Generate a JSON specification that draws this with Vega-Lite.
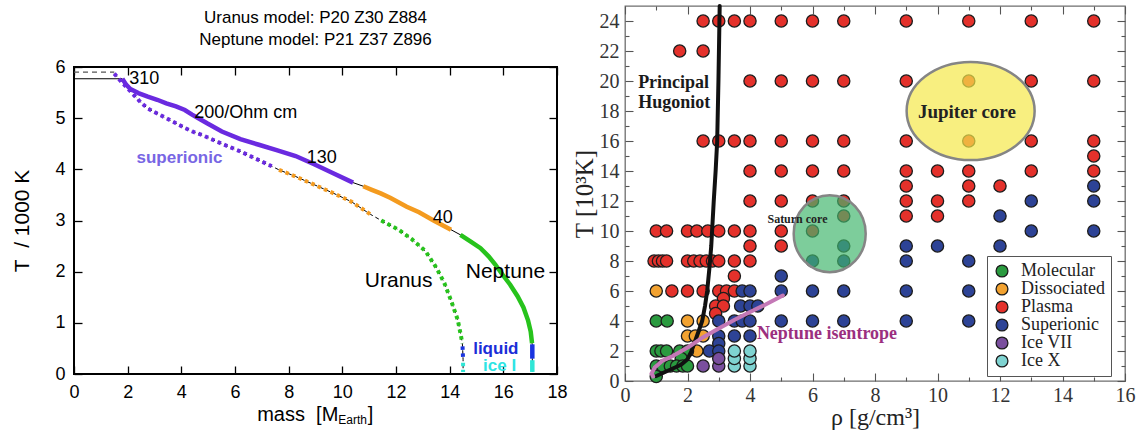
{
"$schema": "https://vega.github.io/schema/vega-lite/v6.json",
"background": "white",
"padding": {"left": 10, "top": -3, "right": 5, "bottom": 5},
"spacing": 2,
"resolve": {"scale": {"color": "independent"}, "legend": {"color": "independent"}},
"datasets": {
  "uranus": [
    {"i":0,"m":1.5,"T":5.87,"ph":"superionic"},{"i":1,"m":1.75,"T":5.72,"ph":"superionic"},{"i":2,"m":1.93,"T":5.62,"ph":"superionic"},
    {"i":3,"m":2.2,"T":5.47,"ph":"superionic"},{"i":4,"m":2.5,"T":5.3,"ph":"superionic"},{"i":5,"m":2.75,"T":5.19,"ph":"superionic"},
    {"i":6,"m":3.1,"T":5.09,"ph":"superionic"},{"i":7,"m":3.44,"T":5.0,"ph":"superionic"},{"i":8,"m":3.8,"T":4.9,"ph":"superionic"},
    {"i":9,"m":4.13,"T":4.81,"ph":"superionic"},{"i":10,"m":4.41,"T":4.74,"ph":"superionic"},{"i":11,"m":4.82,"T":4.66,"ph":"superionic"},
    {"i":12,"m":5.51,"T":4.5,"ph":"superionic"},{"i":13,"m":6.2,"T":4.35,"ph":"superionic"},{"i":14,"m":6.89,"T":4.18,"ph":"superionic"},
    {"i":15,"m":7.37,"T":4.06,"ph":"superionic"},
    {"i":16,"m":7.64,"T":3.99,"ph":"dissociated"},{"i":17,"m":8.26,"T":3.86,"ph":"dissociated"},{"i":18,"m":8.95,"T":3.7,"ph":"dissociated"},
    {"i":19,"m":9.64,"T":3.54,"ph":"dissociated"},{"i":20,"m":10.33,"T":3.37,"ph":"dissociated"},{"i":21,"m":11.05,"T":3.12,"ph":"dissociated"},
    {"i":22,"m":11.45,"T":3.0,"ph":"molecular"},{"i":23,"m":12.1,"T":2.82,"ph":"molecular"},{"i":24,"m":12.6,"T":2.63,"ph":"molecular"},
    {"i":25,"m":13.1,"T":2.4,"ph":"molecular"},{"i":26,"m":13.5,"T":2.08,"ph":"molecular"},{"i":27,"m":13.8,"T":1.78,"ph":"molecular"},
    {"i":28,"m":14.05,"T":1.44,"ph":"molecular"},{"i":29,"m":14.3,"T":1.06,"ph":"molecular"},{"i":30,"m":14.42,"T":0.75,"ph":"molecular"},
    {"i":31,"m":14.47,"T":0.6,"ph":"molecular"},
    {"i":32,"m":14.48,"T":0.54,"ph":"liquid"},{"i":33,"m":14.5,"T":0.28,"ph":"liquid"},
    {"i":34,"m":14.5,"T":0.22,"ph":"ice"},{"i":35,"m":14.5,"T":0.04,"ph":"ice"}
  ],
  "neptune": [
    {"i":0,"m":1.8,"T":5.77,"ph":"superionic"},{"i":1,"m":1.95,"T":5.65,"ph":"superionic"},{"i":2,"m":2.1,"T":5.57,"ph":"superionic"},
    {"i":3,"m":2.4,"T":5.49,"ph":"superionic"},{"i":4,"m":2.75,"T":5.42,"ph":"superionic"},{"i":5,"m":3.1,"T":5.36,"ph":"superionic"},
    {"i":6,"m":3.44,"T":5.29,"ph":"superionic"},{"i":7,"m":3.8,"T":5.23,"ph":"superionic"},{"i":8,"m":4.13,"T":5.16,"ph":"superionic"},
    {"i":9,"m":4.4,"T":5.07,"ph":"superionic"},{"i":10,"m":4.7,"T":4.98,"ph":"superionic"},{"i":11,"m":4.96,"T":4.9,"ph":"superionic"},
    {"i":12,"m":5.51,"T":4.74,"ph":"superionic"},{"i":13,"m":6.2,"T":4.59,"ph":"superionic"},{"i":14,"m":6.89,"T":4.48,"ph":"superionic"},
    {"i":15,"m":7.58,"T":4.37,"ph":"superionic"},{"i":16,"m":8.26,"T":4.26,"ph":"superionic"},{"i":17,"m":8.95,"T":4.1,"ph":"superionic"},
    {"i":18,"m":9.64,"T":3.93,"ph":"superionic"},{"i":19,"m":10.4,"T":3.74,"ph":"superionic"},
    {"i":20,"m":10.78,"T":3.67,"ph":"dissociated"},{"i":21,"m":11.1,"T":3.6,"ph":"dissociated"},{"i":22,"m":11.43,"T":3.53,"ph":"dissociated"},
    {"i":23,"m":11.8,"T":3.44,"ph":"dissociated"},{"i":24,"m":12.4,"T":3.27,"ph":"dissociated"},{"i":25,"m":12.86,"T":3.16,"ph":"dissociated"},
    {"i":26,"m":13.4,"T":3.0,"ph":"dissociated"},{"i":27,"m":14.05,"T":2.82,"ph":"dissociated"},
    {"i":28,"m":14.4,"T":2.72,"ph":"molecular"},{"i":29,"m":14.8,"T":2.58,"ph":"molecular"},{"i":30,"m":15.15,"T":2.46,"ph":"molecular"},
    {"i":31,"m":15.45,"T":2.3,"ph":"molecular"},{"i":32,"m":15.7,"T":2.14,"ph":"molecular"},{"i":33,"m":16.0,"T":1.92,"ph":"molecular"},
    {"i":34,"m":16.25,"T":1.75,"ph":"molecular"},{"i":35,"m":16.53,"T":1.52,"ph":"molecular"},{"i":36,"m":16.75,"T":1.3,"ph":"molecular"},
    {"i":37,"m":16.92,"T":1.05,"ph":"molecular"},{"i":38,"m":17.02,"T":0.83,"ph":"molecular"},{"i":39,"m":17.07,"T":0.6,"ph":"molecular"},
    {"i":40,"m":17.08,"T":0.58,"ph":"liquid"},{"i":41,"m":17.08,"T":0.3,"ph":"liquid"},
    {"i":42,"m":17.08,"T":0.27,"ph":"ice"},{"i":43,"m":17.08,"T":0.04,"ph":"ice"}
  ],
  "surface": [
    {"planet":"Uranus","m":0,"T":5.9},{"planet":"Uranus","m":1.5,"T":5.9},
    {"planet":"Neptune","m":0,"T":5.77},{"planet":"Neptune","m":1.8,"T":5.77}
  ],
  "heading": [
    {"line":1,"t":"Uranus model: P20 Z30 Z884"},
    {"line":2,"t":"Neptune model: P21 Z37 Z896"}
  ],
  "ltext": [
    {"txt":"310","m":2.62,"T":5.77,"k":"num"},
    {"txt":"200/Ohm cm","m":6.4,"T":5.11,"k":"num"},
    {"txt":"130","m":9.23,"T":4.22,"k":"num"},
    {"txt":"40","m":13.74,"T":3.05,"k":"num"},
    {"txt":"Uranus","m":12.1,"T":1.82,"k":"planet"},
    {"txt":"Neptune","m":16.08,"T":1.99,"k":"planet"},
    {"txt":"superionic","m":3.93,"T":4.22,"k":"sup"},
    {"txt":"liquid","m":15.72,"T":0.48,"k":"liq"},
    {"txt":"ice I","m":15.86,"T":0.15,"k":"ice"},
    {"txt":"mass\u00a0\u00a0[M","m":9.85,"T":-0.8,"k":"xt"},
    {"txt":"Earth","m":9.85,"T":-0.9,"k":"xsub"},
    {"txt":"]","m":10.95,"T":-0.8,"k":"xbr"}
  ],
  "hugoniot": [
    {"rho":1.0,"T":0.33},{"rho":1.3,"T":0.62},{"rho":1.6,"T":0.9},{"rho":1.8,"T":1.1},{"rho":2.0,"T":1.45},
    {"rho":2.12,"T":1.95},{"rho":2.25,"T":2.7},{"rho":2.37,"T":3.4},{"rho":2.47,"T":4.0},{"rho":2.56,"T":5.0},
    {"rho":2.63,"T":6.0},{"rho":2.7,"T":7.5},{"rho":2.76,"T":9.0},{"rho":2.8,"T":10.5},{"rho":2.84,"T":12.0},
    {"rho":2.9,"T":14.0},{"rho":2.95,"T":16.0},{"rho":2.99,"T":20.0},{"rho":3.03,"T":25.0}
  ],
  "isentrope": [
    {"rho":0.9,"T":0.3},{"rho":0.85,"T":0.5},{"rho":0.95,"T":0.9},{"rho":1.2,"T":1.35},{"rho":1.53,"T":1.67},
    {"rho":2.06,"T":2.3},{"rho":2.5,"T":2.92},{"rho":3.0,"T":3.5},{"rho":3.48,"T":4.05},{"rho":4.0,"T":4.6},
    {"rho":4.5,"T":5.1},{"rho":5.05,"T":5.7}
  ],
  "phases": [
    {"rho":2.5,"T":24,"state":"Plasma"},{"rho":3,"T":24,"state":"Plasma"},{"rho":3.5,"T":24,"state":"Plasma"},{"rho":4,"T":24,"state":"Plasma"},
    {"rho":5,"T":24,"state":"Plasma"},{"rho":6,"T":24,"state":"Plasma"},{"rho":7,"T":24,"state":"Plasma"},{"rho":9,"T":24,"state":"Plasma"},
    {"rho":11,"T":24,"state":"Plasma"},{"rho":13,"T":24,"state":"Plasma"},{"rho":15,"T":24,"state":"Plasma"},
    {"rho":1.75,"T":22,"state":"Plasma"},{"rho":2.5,"T":22,"state":"Plasma"},
    {"rho":4,"T":20,"state":"Plasma"},{"rho":5,"T":20,"state":"Plasma"},{"rho":6,"T":20,"state":"Plasma"},{"rho":7,"T":20,"state":"Plasma"},
    {"rho":9,"T":20,"state":"Plasma"},{"rho":11,"T":20,"state":"Plasma"},{"rho":13,"T":20,"state":"Plasma"},{"rho":15,"T":20,"state":"Plasma"},
    {"rho":2.5,"T":16,"state":"Plasma"},{"rho":3,"T":16,"state":"Plasma"},{"rho":3.5,"T":16,"state":"Plasma"},{"rho":4,"T":16,"state":"Plasma"},
    {"rho":5,"T":16,"state":"Plasma"},{"rho":6,"T":16,"state":"Plasma"},{"rho":7,"T":16,"state":"Plasma"},{"rho":9,"T":16,"state":"Plasma"},
    {"rho":11,"T":16,"state":"Plasma"},{"rho":13,"T":16,"state":"Plasma"},{"rho":15,"T":16,"state":"Plasma"},
    {"rho":15,"T":15,"state":"Plasma"},
    {"rho":4,"T":14,"state":"Plasma"},{"rho":5,"T":14,"state":"Plasma"},{"rho":6,"T":14,"state":"Plasma"},{"rho":7,"T":14,"state":"Plasma"},
    {"rho":9,"T":14,"state":"Plasma"},{"rho":10,"T":14,"state":"Plasma"},{"rho":11,"T":14,"state":"Plasma"},{"rho":13,"T":14,"state":"Plasma"},
    {"rho":15,"T":14,"state":"Plasma"},
    {"rho":9,"T":13,"state":"Plasma"},{"rho":11,"T":13,"state":"Plasma"},{"rho":12,"T":13,"state":"Plasma"},
    {"rho":4,"T":12,"state":"Plasma"},{"rho":5,"T":12,"state":"Plasma"},{"rho":6,"T":12,"state":"Plasma"},{"rho":7,"T":12,"state":"Plasma"},
    {"rho":9,"T":12,"state":"Plasma"},{"rho":10,"T":12,"state":"Plasma"},{"rho":11,"T":12,"state":"Plasma"},
    {"rho":7,"T":11,"state":"Plasma"},{"rho":9,"T":11,"state":"Plasma"},{"rho":10,"T":11,"state":"Plasma"},
    {"rho":1.0,"T":10,"state":"Plasma"},{"rho":1.33,"T":10,"state":"Plasma"},{"rho":2.0,"T":10,"state":"Plasma"},{"rho":2.3,"T":10,"state":"Plasma"},
    {"rho":2.65,"T":10,"state":"Plasma"},{"rho":3.0,"T":10,"state":"Plasma"},{"rho":3.5,"T":10,"state":"Plasma"},{"rho":4.0,"T":10,"state":"Plasma"},
    {"rho":5.0,"T":10,"state":"Plasma"},{"rho":6.0,"T":10,"state":"Plasma"},
    {"rho":4,"T":9,"state":"Plasma"},{"rho":5,"T":9,"state":"Plasma"},
    {"rho":0.93,"T":8,"state":"Plasma"},{"rho":1.07,"T":8,"state":"Plasma"},{"rho":1.2,"T":8,"state":"Plasma"},{"rho":1.33,"T":8,"state":"Plasma"},
    {"rho":2.0,"T":8,"state":"Plasma"},{"rho":2.2,"T":8,"state":"Plasma"},{"rho":2.4,"T":8,"state":"Plasma"},{"rho":2.6,"T":8,"state":"Plasma"},
    {"rho":2.8,"T":8,"state":"Plasma"},{"rho":3.0,"T":8,"state":"Plasma"},{"rho":3.5,"T":8,"state":"Plasma"},{"rho":4.0,"T":8,"state":"Plasma"},
    {"rho":3.5,"T":7,"state":"Plasma"},
    {"rho":1.5,"T":6,"state":"Plasma"},{"rho":2.0,"T":6,"state":"Plasma"},{"rho":2.5,"T":6,"state":"Plasma"},{"rho":3.0,"T":6,"state":"Plasma"},
    {"rho":3.25,"T":6,"state":"Plasma"},{"rho":3.5,"T":6,"state":"Plasma"},
    {"rho":3.15,"T":5.5,"state":"Plasma"},{"rho":2.9,"T":5,"state":"Plasma"},{"rho":3.15,"T":5,"state":"Plasma"},{"rho":2.9,"T":4.5,"state":"Plasma"},
    {"rho":15,"T":13,"state":"Superionic"},{"rho":13,"T":12,"state":"Superionic"},{"rho":15,"T":12,"state":"Superionic"},
    {"rho":12,"T":11,"state":"Superionic"},{"rho":13,"T":10,"state":"Superionic"},{"rho":15,"T":10,"state":"Superionic"},
    {"rho":7,"T":9,"state":"Superionic"},{"rho":9,"T":9,"state":"Superionic"},{"rho":10,"T":9,"state":"Superionic"},{"rho":12,"T":9,"state":"Superionic"},
    {"rho":6,"T":8,"state":"Superionic"},{"rho":7,"T":8,"state":"Superionic"},{"rho":9,"T":8,"state":"Superionic"},{"rho":11,"T":8,"state":"Superionic"},
    {"rho":5,"T":7,"state":"Superionic"},
    {"rho":3.75,"T":6,"state":"Superionic"},{"rho":4,"T":6,"state":"Superionic"},{"rho":5,"T":6,"state":"Superionic"},{"rho":6,"T":6,"state":"Superionic"},
    {"rho":7,"T":6,"state":"Superionic"},{"rho":9,"T":6,"state":"Superionic"},{"rho":11,"T":6,"state":"Superionic"},
    {"rho":3.7,"T":5,"state":"Superionic"},{"rho":4.0,"T":5,"state":"Superionic"},{"rho":4.25,"T":5,"state":"Superionic"},
    {"rho":3.0,"T":4,"state":"Superionic"},{"rho":3.5,"T":4,"state":"Superionic"},{"rho":3.75,"T":4,"state":"Superionic"},{"rho":4.0,"T":4,"state":"Superionic"},
    {"rho":5,"T":4,"state":"Superionic"},{"rho":6,"T":4,"state":"Superionic"},{"rho":7,"T":4,"state":"Superionic"},{"rho":9,"T":4,"state":"Superionic"},
    {"rho":11,"T":4,"state":"Superionic"},
    {"rho":3.0,"T":3,"state":"Superionic"},{"rho":3.5,"T":3,"state":"Superionic"},{"rho":4.0,"T":3,"state":"Superionic"},
    {"rho":3.0,"T":2.5,"state":"Superionic"},{"rho":2.7,"T":2,"state":"Superionic"},{"rho":3.0,"T":2,"state":"Superionic"},
    {"rho":1.0,"T":6,"state":"Dissociated"},{"rho":2.0,"T":4,"state":"Dissociated"},{"rho":2.5,"T":4,"state":"Dissociated"},
    {"rho":2.0,"T":3,"state":"Dissociated"},{"rho":2.25,"T":3,"state":"Dissociated"},{"rho":2.5,"T":3,"state":"Dissociated"},
    {"rho":2.3,"T":2,"state":"Dissociated"},
    {"rho":1.0,"T":4,"state":"Molecular"},{"rho":1.35,"T":4,"state":"Molecular"},
    {"rho":1.0,"T":2,"state":"Molecular"},{"rho":1.15,"T":2,"state":"Molecular"},{"rho":1.33,"T":2,"state":"Molecular"},
    {"rho":1.75,"T":2,"state":"Molecular"},{"rho":2.0,"T":2,"state":"Molecular"},{"rho":1.8,"T":1.5,"state":"Molecular"},
    {"rho":1.0,"T":1,"state":"Molecular"},{"rho":1.2,"T":1,"state":"Molecular"},{"rho":1.45,"T":1,"state":"Molecular"},
    {"rho":1.65,"T":1,"state":"Molecular"},{"rho":1.85,"T":1,"state":"Molecular"},{"rho":2.0,"T":1,"state":"Molecular"},
    {"rho":1.0,"T":0.3,"state":"Molecular"},
    {"rho":2.5,"T":1,"state":"Ice VII"},{"rho":3.0,"T":1,"state":"Ice VII"},{"rho":3.0,"T":1.5,"state":"Ice VII"},
    {"rho":3.5,"T":1,"state":"Ice X"},{"rho":3.5,"T":1.5,"state":"Ice X"},{"rho":3.5,"T":2,"state":"Ice X"},
    {"rho":4.0,"T":1,"state":"Ice X"},{"rho":4.0,"T":1.5,"state":"Ice X"},{"rho":4.0,"T":2,"state":"Ice X"}
  ],
  "cores": [
    {"name":"Saturn core","rho":6.55,"T":9.82},
    {"name":"Jupiter core","rho":11.06,"T":18.0}
  ],
  "rtext": [
    {"txt":"Principal","rho":0.42,"T":19.9,"k":"hug"},
    {"txt":"Hugoniot","rho":0.42,"T":18.55,"k":"hug"},
    {"txt":"Neptune isentrope","rho":4.22,"T":3.15,"k":"isen"},
    {"txt":"Jupiter core","rho":10.94,"T":17.95,"k":"jup"},
    {"txt":"Saturn core","rho":5.52,"T":10.8,"k":"sat"}
  ]
},
"hconcat": [
  {"vconcat": [
    {
      "width": 483,
      "height": 46,
      "view": {"stroke": null},
      "data": {"name": "heading"},
      "mark": {"type": "text", "font": "Liberation Sans", "fontSize": 17, "color": "black", "align": "center", "baseline": "middle"},
      "encoding": {
        "y": {"field": "line", "type": "ordinal", "axis": null, "scale": {"type": "point", "padding": 0.55}},
        "text": {"field": "t"}
      }
    },
    {
    "width": 483,
    "height": 307,
    "view": {"stroke": "black", "strokeWidth": 2},
    "resolve": {"axis": {"x": "independent", "y": "independent"}},
    "layer": [
      {"data": {"name": "uranus"},
       "mark": {"type": "line", "color": "black", "strokeWidth": 1, "strokeDash": [4, 3]},
       "encoding": {
         "x": {"field": "m", "type": "quantitative", "scale": {"domain": [0, 18], "nice": false, "zero": false},
               "axis": {"orient": "bottom", "values": [0,2,4,6,8,10,12,14,16,18], "tickSize": -8, "tickColor": "black", "tickWidth": 1.3, "domain": false, "grid": false, "labelFont": "Liberation Sans", "labelFontSize": 18, "labelColor": "black", "labelPadding": 17, "labelFlush": false, "labelOverlap": false, "title": null}},
         "y": {"field": "T", "type": "quantitative", "scale": {"domain": [0, 6], "nice": false, "zero": false},
               "axis": {"orient": "left", "values": [0,1,2,3,4,5,6], "tickSize": -8, "tickColor": "black", "tickWidth": 1.3, "domain": false, "grid": false, "labelFont": "Liberation Sans", "labelFontSize": 18, "labelColor": "black", "labelPadding": 17, "labelFlush": false, "labelOverlap": false, "title": "T\u00a0\u00a0/ 1000 K", "titleFont": "Liberation Sans", "titleFontSize": 21, "titleFontWeight": "normal", "titleColor": "black", "titlePadding": 22}},
         "order": {"field": "i"}
       }},
      {"data": {"name": "neptune"},
       "mark": {"type": "line", "color": "black", "strokeWidth": 1},
       "encoding": {
         "x": {"field": "m", "type": "quantitative", "scale": {"domain": [0, 18], "nice": false, "zero": false},
               "axis": {"orient": "top", "values": [0,2,4,6,8,10,12,14,16,18], "tickSize": -8, "tickColor": "black", "tickWidth": 1.3, "domain": false, "grid": false, "labels": false, "title": null}},
         "y": {"field": "T", "type": "quantitative", "scale": {"domain": [0, 6], "nice": false, "zero": false},
               "axis": {"orient": "right", "values": [0,1,2,3,4,5,6], "tickSize": -8, "tickColor": "black", "tickWidth": 1.3, "domain": false, "grid": false, "labels": false, "title": null}},
         "order": {"field": "i"}
       }},
      {"data": {"name": "surface"},
       "transform": [{"filter": "datum.planet === 'Uranus'"}],
       "mark": {"type": "line", "color": "#555555", "strokeWidth": 1.2, "strokeDash": [5, 4]},
       "encoding": {
         "x": {"field": "m", "type": "quantitative", "scale": {"domain": [0, 18], "nice": false, "zero": false}, "axis": null},
         "y": {"field": "T", "type": "quantitative", "scale": {"domain": [0, 6], "nice": false, "zero": false}, "axis": null}
       }},
      {"data": {"name": "surface"},
       "transform": [{"filter": "datum.planet === 'Neptune'"}],
       "mark": {"type": "line", "color": "black", "strokeWidth": 1.2},
       "encoding": {
         "x": {"field": "m", "type": "quantitative", "scale": {"domain": [0, 18], "nice": false, "zero": false}, "axis": null},
         "y": {"field": "T", "type": "quantitative", "scale": {"domain": [0, 6], "nice": false, "zero": false}, "axis": null}
       }},
      {"data": {"name": "uranus"},
       "mark": {"type": "line", "strokeWidth": 4, "strokeDash": [3.5, 3.5]},
       "encoding": {
         "x": {"field": "m", "type": "quantitative", "scale": {"domain": [0, 18], "nice": false, "zero": false}, "axis": null},
         "y": {"field": "T", "type": "quantitative", "scale": {"domain": [0, 6], "nice": false, "zero": false}, "axis": null},
         "color": {"field": "ph", "type": "nominal", "scale": {"domain": ["superionic","dissociated","molecular","liquid","ice"], "range": ["#6a2ae0","#f49b1f","#27c31c","#1a34e0","#2fe6d6"]}, "legend": null},
         "order": {"field": "i"}
       }},
      {"data": {"name": "neptune"},
       "mark": {"type": "line", "strokeWidth": 4.5},
       "encoding": {
         "x": {"field": "m", "type": "quantitative", "scale": {"domain": [0, 18], "nice": false, "zero": false}, "axis": null},
         "y": {"field": "T", "type": "quantitative", "scale": {"domain": [0, 6], "nice": false, "zero": false}, "axis": null},
         "color": {"field": "ph", "type": "nominal", "scale": {"domain": ["superionic","dissociated","molecular","liquid","ice"], "range": ["#6a2ae0","#f49b1f","#27c31c","#1a34e0","#2fe6d6"]}, "legend": null},
         "order": {"field": "i"}
       }},
      {"data": {"name": "ltext"},
       "transform": [{"filter": "datum.k === 'num'"}],
       "mark": {"type": "text", "font": "Liberation Sans", "fontSize": 18, "color": "black", "align": "center", "baseline": "middle"},
       "encoding": {
         "x": {"field": "m", "type": "quantitative", "scale": {"domain": [0, 18], "nice": false, "zero": false}, "axis": null},
         "y": {"field": "T", "type": "quantitative", "scale": {"domain": [0, 6], "nice": false, "zero": false}, "axis": null},
         "text": {"field": "txt"}
       }},
      {"data": {"name": "ltext"},
       "transform": [{"filter": "datum.k === 'planet'"}],
       "mark": {"type": "text", "font": "Liberation Sans", "fontSize": 21, "color": "black", "align": "center", "baseline": "middle"},
       "encoding": {
         "x": {"field": "m", "type": "quantitative", "scale": {"domain": [0, 18], "nice": false, "zero": false}, "axis": null},
         "y": {"field": "T", "type": "quantitative", "scale": {"domain": [0, 6], "nice": false, "zero": false}, "axis": null},
         "text": {"field": "txt"}
       }},
      {"data": {"name": "ltext"},
       "transform": [{"filter": "datum.k === 'sup'"}],
       "mark": {"type": "text", "font": "Liberation Sans", "fontSize": 17, "fontWeight": "bold", "color": "#7866e4", "align": "center", "baseline": "middle"},
       "encoding": {
         "x": {"field": "m", "type": "quantitative", "scale": {"domain": [0, 18], "nice": false, "zero": false}, "axis": null},
         "y": {"field": "T", "type": "quantitative", "scale": {"domain": [0, 6], "nice": false, "zero": false}, "axis": null},
         "text": {"field": "txt"}
       }},
      {"data": {"name": "ltext"},
       "transform": [{"filter": "datum.k === 'liq'"}],
       "mark": {"type": "text", "font": "Liberation Sans", "fontSize": 17, "fontWeight": "bold", "color": "#1a2ed8", "align": "center", "baseline": "middle"},
       "encoding": {
         "x": {"field": "m", "type": "quantitative", "scale": {"domain": [0, 18], "nice": false, "zero": false}, "axis": null},
         "y": {"field": "T", "type": "quantitative", "scale": {"domain": [0, 6], "nice": false, "zero": false}, "axis": null},
         "text": {"field": "txt"}
       }},
      {"data": {"name": "ltext"},
       "transform": [{"filter": "datum.k === 'ice'"}],
       "mark": {"type": "text", "font": "Liberation Sans", "fontSize": 17, "fontWeight": "bold", "color": "#2ee4e4", "align": "center", "baseline": "middle"},
       "encoding": {
         "x": {"field": "m", "type": "quantitative", "scale": {"domain": [0, 18], "nice": false, "zero": false}, "axis": null},
         "y": {"field": "T", "type": "quantitative", "scale": {"domain": [0, 6], "nice": false, "zero": false}, "axis": null},
         "text": {"field": "txt"}
       }},
      {"data": {"name": "ltext"},
       "transform": [{"filter": "datum.k === 'xt'"}],
       "mark": {"type": "text", "font": "Liberation Sans", "fontSize": 20, "color": "black", "align": "right", "baseline": "middle"},
       "encoding": {
         "x": {"field": "m", "type": "quantitative", "scale": {"domain": [0, 18], "nice": false, "zero": false}, "axis": null},
         "y": {"field": "T", "type": "quantitative", "scale": {"domain": [0, 6], "nice": false, "zero": false}, "axis": null},
         "text": {"field": "txt"}
       }},
      {"data": {"name": "ltext"},
       "transform": [{"filter": "datum.k === 'xsub'"}],
       "mark": {"type": "text", "font": "Liberation Sans", "fontSize": 12, "color": "black", "align": "left", "baseline": "middle"},
       "encoding": {
         "x": {"field": "m", "type": "quantitative", "scale": {"domain": [0, 18], "nice": false, "zero": false}, "axis": null},
         "y": {"field": "T", "type": "quantitative", "scale": {"domain": [0, 6], "nice": false, "zero": false}, "axis": null},
         "text": {"field": "txt"}
       }},
      {"data": {"name": "ltext"},
       "transform": [{"filter": "datum.k === 'xbr'"}],
       "mark": {"type": "text", "font": "Liberation Sans", "fontSize": 20, "color": "black", "align": "left", "baseline": "middle"},
       "encoding": {
         "x": {"field": "m", "type": "quantitative", "scale": {"domain": [0, 18], "nice": false, "zero": false}, "axis": null},
         "y": {"field": "T", "type": "quantitative", "scale": {"domain": [0, 6], "nice": false, "zero": false}, "axis": null},
         "text": {"field": "txt"}
       }}
    ]
    }
  ], "spacing": 5},
  {
    "width": 500,
    "height": 375,
    "view": {"stroke": "#6e6e6e", "strokeWidth": 1.3},
    "resolve": {"axis": {"x": "independent", "y": "independent"}},
    "layer": [
      {"data": {"name": "phases"},
       "mark": {"type": "point", "filled": true, "size": 150, "stroke": "#1c1c1c", "strokeWidth": 1.3, "opacity": 1},
       "encoding": {
         "x": {"field": "rho", "type": "quantitative", "scale": {"domain": [0, 16], "nice": false, "zero": false},
               "axis": {"orient": "bottom", "values": [0,1,2,3,4,5,6,7,8,9,10,11,12,13,14,15,16], "labelExpr": "datum.value % 2 === 0 ? datum.label : ''",
                        "tickSize": {"condition": {"test": "datum.value % 2 === 0", "value": -8}, "value": -4},
                        "tickColor": "#555555", "tickWidth": 1.1, "domain": false, "grid": false,
                        "labelFont": "Liberation Serif", "labelFontSize": 20, "labelColor": "#333333", "labelPadding": 12, "labelFlush": false, "labelOverlap": false,
                        "title": "ρ [g/cm³]", "titleFont": "Liberation Serif", "titleFontSize": 24, "titleFontWeight": "normal", "titleColor": "#222222", "titlePadding": -4}},
         "y": {"field": "T", "type": "quantitative", "scale": {"domain": [0, 25], "nice": false, "zero": false},
               "axis": {"orient": "left", "values": [0,1,2,3,4,5,6,7,8,9,10,11,12,13,14,15,16,17,18,19,20,21,22,23,24], "labelExpr": "datum.value % 2 === 0 ? datum.label : ''",
                        "tickSize": {"condition": {"test": "datum.value % 2 === 0", "value": -8}, "value": -4},
                        "tickColor": "#555555", "tickWidth": 1.1, "domain": false, "grid": false,
                        "labelFont": "Liberation Serif", "labelFontSize": 20, "labelColor": "#333333", "labelPadding": 14, "labelFlush": false, "labelOverlap": false,
                        "title": "T [10³K]", "titleFont": "Liberation Serif", "titleFontSize": 25, "titleFontWeight": "normal", "titleColor": "#222222", "titlePadding": 2}},
         "color": {"field": "state", "type": "nominal",
                   "scale": {"domain": ["Molecular","Dissociated","Plasma","Superionic","Ice VII","Ice X"], "range": ["#2a9a3f","#f2a230","#e4312b","#2d4396","#7a4f9e","#7fd3d1"]},
                   "legend": {"title": null, "orient": "none", "legendX": 362, "legendY": 250, "direction": "vertical", "fillColor": "white", "strokeColor": "#555555", "padding": 6,
                              "labelFont": "Liberation Serif", "labelFontSize": 18, "labelColor": "#222222", "symbolType": "circle", "symbolSize": 140,
                              "symbolStrokeColor": "#1c1c1c", "symbolStrokeWidth": 1.3, "symbolOpacity": 1, "labelOffset": 10, "rowPadding": 0, "labelLimit": 300}}
       }},
      {"data": {"name": "hugoniot"},
       "mark": {"type": "line", "color": "#111111", "strokeWidth": 4, "strokeCap": "round"},
       "encoding": {
         "x": {"field": "rho", "type": "quantitative", "scale": {"domain": [0, 16], "nice": false, "zero": false},
               "axis": {"orient": "top", "values": [0,1,2,3,4,5,6,7,8,9,10,11,12,13,14,15,16], "labels": false,
                        "tickSize": {"condition": {"test": "datum.value % 2 === 0", "value": -8}, "value": -4},
                        "tickColor": "#555555", "tickWidth": 1.1, "domain": false, "grid": false, "title": null}},
         "y": {"field": "T", "type": "quantitative", "scale": {"domain": [0, 25], "nice": false, "zero": false},
               "axis": {"orient": "right", "values": [0,1,2,3,4,5,6,7,8,9,10,11,12,13,14,15,16,17,18,19,20,21,22,23,24], "labels": false,
                        "tickSize": {"condition": {"test": "datum.value % 2 === 0", "value": -8}, "value": -4},
                        "tickColor": "#555555", "tickWidth": 1.1, "domain": false, "grid": false, "title": null}},
         "order": {"field": "T"}
       }},
      {"data": {"name": "isentrope"},
       "mark": {"type": "line", "color": "#c478b6", "strokeWidth": 4, "strokeCap": "round"},
       "encoding": {
         "x": {"field": "rho", "type": "quantitative", "scale": {"domain": [0, 16], "nice": false, "zero": false}, "axis": null},
         "y": {"field": "T", "type": "quantitative", "scale": {"domain": [0, 25], "nice": false, "zero": false}, "axis": null},
         "order": {"field": "T"}
       }},
      {"data": {"name": "cores"},
       "transform": [{"filter": "datum.name === 'Saturn core'"}],
       "mark": {"type": "point", "shape": "M -0.935 0 A 0.935 1 0 1 1 0.935 0 A 0.935 1 0 1 1 -0.935 0 Z", "size": 5929, "filled": true, "fill": "#3fb56c", "fillOpacity": 0.68, "stroke": "#858585", "strokeWidth": 2.5, "strokeOpacity": 1},
       "encoding": {
         "x": {"field": "rho", "type": "quantitative", "scale": {"domain": [0, 16], "nice": false, "zero": false}, "axis": null},
         "y": {"field": "T", "type": "quantitative", "scale": {"domain": [0, 25], "nice": false, "zero": false}, "axis": null}
       }},
      {"data": {"name": "cores"},
       "transform": [{"filter": "datum.name === 'Jupiter core'"}],
       "mark": {"type": "point", "shape": "M -1 0 A 1 0.766 0 1 1 1 0 A 1 0.766 0 1 1 -1 0 Z", "size": 16384, "filled": true, "fill": "#f5e84a", "fillOpacity": 0.7, "stroke": "#858585", "strokeWidth": 2.5, "strokeOpacity": 1},
       "encoding": {
         "x": {"field": "rho", "type": "quantitative", "scale": {"domain": [0, 16], "nice": false, "zero": false}, "axis": null},
         "y": {"field": "T", "type": "quantitative", "scale": {"domain": [0, 25], "nice": false, "zero": false}, "axis": null}
       }},
      {"data": {"name": "rtext"},
       "transform": [{"filter": "datum.k === 'hug'"}],
       "mark": {"type": "text", "font": "Liberation Serif", "fontSize": 18, "fontWeight": "bold", "color": "#1a1a1a", "align": "left", "baseline": "middle"},
       "encoding": {
         "x": {"field": "rho", "type": "quantitative", "scale": {"domain": [0, 16], "nice": false, "zero": false}, "axis": null},
         "y": {"field": "T", "type": "quantitative", "scale": {"domain": [0, 25], "nice": false, "zero": false}, "axis": null},
         "text": {"field": "txt"}
       }},
      {"data": {"name": "rtext"},
       "transform": [{"filter": "datum.k === 'isen'"}],
       "mark": {"type": "text", "font": "Liberation Serif", "fontSize": 18, "fontWeight": "bold", "color": "#9b2f7f", "align": "left", "baseline": "middle"},
       "encoding": {
         "x": {"field": "rho", "type": "quantitative", "scale": {"domain": [0, 16], "nice": false, "zero": false}, "axis": null},
         "y": {"field": "T", "type": "quantitative", "scale": {"domain": [0, 25], "nice": false, "zero": false}, "axis": null},
         "text": {"field": "txt"}
       }},
      {"data": {"name": "rtext"},
       "transform": [{"filter": "datum.k === 'jup'"}],
       "mark": {"type": "text", "font": "Liberation Serif", "fontSize": 19, "fontWeight": "bold", "color": "#222222", "align": "center", "baseline": "middle"},
       "encoding": {
         "x": {"field": "rho", "type": "quantitative", "scale": {"domain": [0, 16], "nice": false, "zero": false}, "axis": null},
         "y": {"field": "T", "type": "quantitative", "scale": {"domain": [0, 25], "nice": false, "zero": false}, "axis": null},
         "text": {"field": "txt"}
       }},
      {"data": {"name": "rtext"},
       "transform": [{"filter": "datum.k === 'sat'"}],
       "mark": {"type": "text", "font": "Liberation Serif", "fontSize": 12, "fontWeight": "bold", "color": "#222222", "align": "center", "baseline": "middle"},
       "encoding": {
         "x": {"field": "rho", "type": "quantitative", "scale": {"domain": [0, 16], "nice": false, "zero": false}, "axis": null},
         "y": {"field": "T", "type": "quantitative", "scale": {"domain": [0, 25], "nice": false, "zero": false}, "axis": null},
         "text": {"field": "txt"}
       }}
    ]
  }
]
}
